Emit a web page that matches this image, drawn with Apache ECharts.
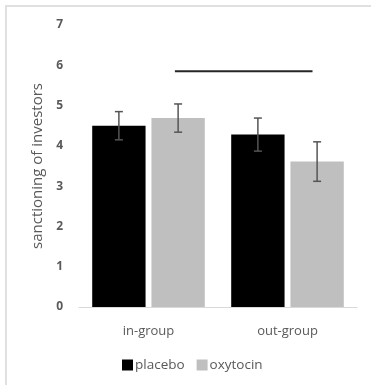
<!DOCTYPE html>
<html><head><meta charset="utf-8">
<script src="https://cdn.jsdelivr.net/npm/echarts@6/dist/echarts.min.js"></script>
<style>html,body{margin:0;padding:0;background:#fff}#c{width:371px;height:385px}</style>
</head><body><div id="c"></div>
<script>
const categories = ['in-group', 'out-group'];
const seriesNames = ['placebo', 'oxytocin'];
const placebo = [4.50, 4.28];
const oxytocin = [4.69, 3.61];
const placeboErr = [0.35, 0.41];
const oxytocinErr = [0.35, 0.49];
const yTicks = [0, 1, 2, 3, 4, 5, 6, 7];
const sigLine = [[0.69, 5.85], [1.68, 5.85]];

const barGap = 0.11, catGap = 0.19;
const font = 'Open Sans';
const txt = '#595959';

function errSeries(vals, errs, idx) {
  return {
    type: 'custom', xAxisIndex: 0, yAxisIndex: 0, z: 5,
    data: vals.map((v, i) => [i, v, errs[i]]),
    renderItem: function (params, api) {
      const i = api.value(0), v = api.value(1), e = api.value(2);
      const catW = api.size([1, 0])[0];
      const w = catW * (1 - catGap) / (2 + barGap);
      const off = (idx === 0 ? -1 : 1) * w * (1 + barGap) / 2;
      const top = api.coord([i, v + e]);
      const bot = api.coord([i, v - e]);
      const x = top[0] + off;
      const cap = 4;
      const st = { stroke: '#555555', lineWidth: 1.5 };
      return { type: 'group', children: [
        { type: 'line', shape: { x1: x, y1: top[1], x2: x, y2: bot[1] }, style: st },
        { type: 'line', shape: { x1: x - cap, y1: top[1], x2: x + cap, y2: top[1] }, style: st },
        { type: 'line', shape: { x1: x - cap, y1: bot[1], x2: x + cap, y2: bot[1] }, style: st }
      ]};
    }
  };
}

const chart = echarts.init(document.getElementById('c'), null, { renderer: 'canvas' });
chart.setOption({
  animation: false,
  textStyle: { fontFamily: font },
  graphic: [{ type: 'rect', shape: { x: 6, y: 6, width: 400, height: 400 }, style: { fill: 'none', stroke: '#e0e0e0', lineWidth: 2 }, silent: true }],
  grid: { left: 79, right: 14, top: 25, bottom: 78 },
  legend: {
    data: seriesNames, bottom: 8, left: 117, itemWidth: 11, itemHeight: 11, itemGap: 12,
    icon: 'rect',
    textStyle: { color: txt, fontSize: 13.5, fontFamily: font, padding: [0, 0, 0, -3] }
  },
  xAxis: [{
    type: 'category', data: categories,
    axisLine: { lineStyle: { color: '#d9d9d9', width: 1 } },
    axisTick: { show: false },
    axisLabel: { color: txt, fontSize: 13, margin: 18, fontFamily: font }
  }, {
    type: 'value', min: 0, max: 2, show: false
  }],
  yAxis: {
    type: 'value', min: 0, max: 7, interval: 1,
    name: 'sanctioning of investors', nameLocation: 'middle', nameGap: 30,
    nameTextStyle: { color: txt, fontSize: 15, fontFamily: font },
    axisLine: { show: false }, axisTick: { show: false }, splitLine: { show: false },
    axisLabel: { color: txt, fontSize: 12, margin: 16, fontWeight: 'bold', fontFamily: font,
      formatter: v => yTicks.includes(v) ? String(v) : '' }
  },
  series: [
    { name: seriesNames[0], type: 'bar', data: placebo, itemStyle: { color: '#000000' }, barGap: (barGap * 100) + '%', barCategoryGap: (catGap * 100) + '%' },
    { name: seriesNames[1], type: 'bar', data: oxytocin, itemStyle: { color: '#bfbfbf' } },
    errSeries(placebo, placeboErr, 0),
    errSeries(oxytocin, oxytocinErr, 1),
    { type: 'line', xAxisIndex: 1, data: sigLine, symbol: 'none', lineStyle: { color: '#262626', width: 2 }, z: 6 }
  ]
});
</script></body></html>
